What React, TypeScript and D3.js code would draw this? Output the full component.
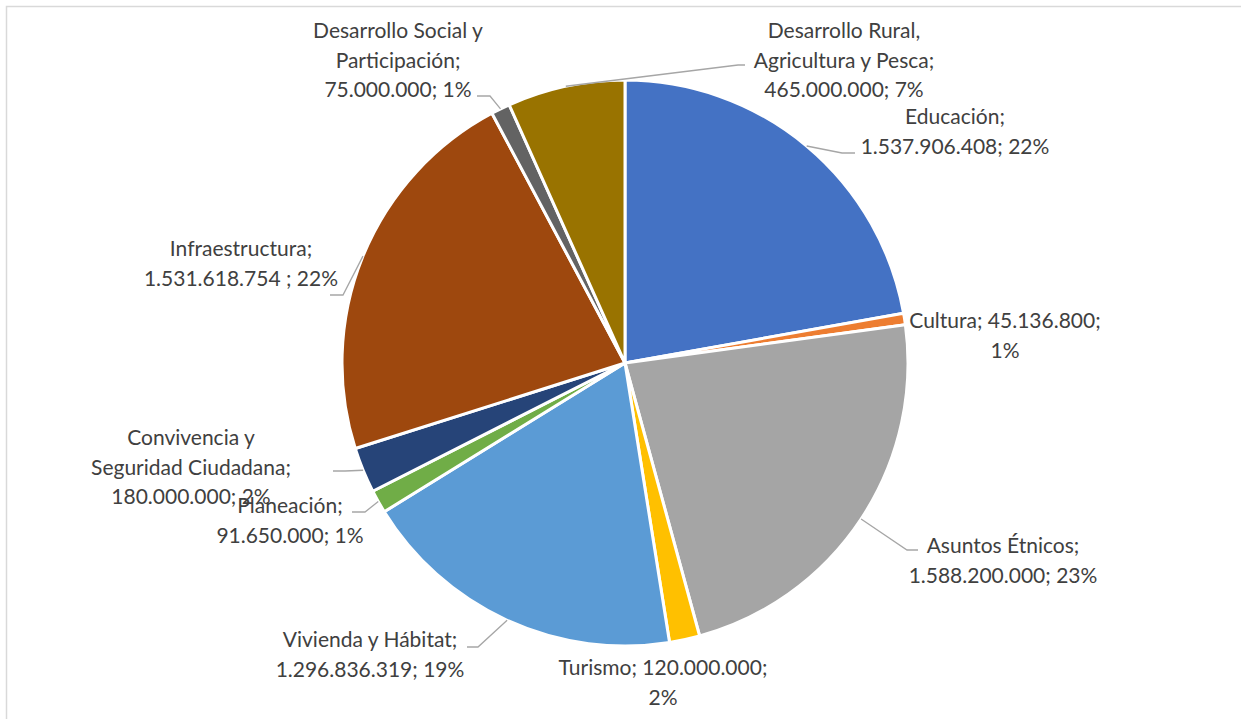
import React from "react";
import * as d3 from "d3";

const categories = [
  "Educación",
  "Cultura",
  "Asuntos Étnicos",
  "Turismo",
  "Vivienda y Hábitat",
  "Planeación",
  "Convivencia y Seguridad Ciudadana",
  "Infraestructura",
  "Desarrollo Social y Participación",
  "Desarrollo Rural, Agricultura y Pesca",
];
const values = [
  1537906408, 45136800, 1588200000, 120000000, 1296836319, 91650000, 180000000,
  1531618754, 75000000, 465000000,
];
const percentLabels = [22, 1, 23, 2, 19, 1, 2, 22, 1, 7];
const colors = [
  "#4472C4", "#ED7D31", "#A5A5A5", "#FFC000", "#5B9BD5",
  "#70AD47", "#264478", "#9E480E", "#636363", "#997300",
];
// label text templates: {v} value, {p} percent
const labelTemplates = [
  ["Educación;", "{v}; {p}%"],
  ["Cultura; {v};", "{p}%"],
  ["Asuntos Étnicos;", "{v}; {p}%"],
  ["Turismo; {v};", "{p}%"],
  ["Vivienda y Hábitat;", "{v}; {p}%"],
  ["Planeación;", "{v}; {p}%"],
  ["Convivencia y", "Seguridad Ciudadana;", "{v}; {p}%"],
  ["Infraestructura;", "{v} ; {p}%"],
  ["Desarrollo Social y", "Participación;", "{v}; {p}%"],
  ["Desarrollo Rural,", "Agricultura y Pesca;", "{v}; {p}%"],
];
// layout of labels: center x, first baseline y, leader elbow and end (null = no leader)
const labelLayout: { x: number; y: number; elbow: [number, number] | null; end: [number, number] | null }[] = [
  { x: 955, y: 124, elbow: [842, 153], end: [855, 153] },
  { x: 1005, y: 328, elbow: null, end: null },
  { x: 1003, y: 553, elbow: [907, 550], end: [918, 550] },
  { x: 663, y: 675, elbow: null, end: null },
  { x: 370, y: 647, elbow: [478, 647], end: [467, 647] },
  { x: 290, y: 513, elbow: [365, 512], end: [352, 512] },
  { x: 191, y: 445, elbow: [345, 471], end: [333, 471] },
  { x: 241, y: 256, elbow: [343, 295], end: [330, 295] },
  { x: 398, y: 38, elbow: [490, 96], end: [477, 96] },
  { x: 844, y: 38, elbow: [738, 65], end: [745, 65] },
];

const W = 1241;
const H = 719;
const CX = 625;
const CY = 363;
const R = 283;
const LINE_H = 29.5;

const fmtNum = (v: number) => d3.format(",")(v).replace(/,/g, ".");

export default function App() {
  const data = categories.map((c, i) => ({ c, v: values[i], i }));
  const pie = d3.pie<any>().value((d) => d.v).sort(null);
  const arcs = pie(data);
  const arcGen = d3.arc<any>().innerRadius(0).outerRadius(R);

  return (
    <svg
      width={W}
      height={H}
      style={{ position: "absolute", left: 0, top: 0, background: "#fff" }}
      fontFamily="Lato, 'Open Sans', sans-serif"
    >
      <rect x={0} y={0} width={W} height={H} fill="#fff" />
      <rect x={6.5} y={6.5} width={W + 20} height={H + 20} fill="none" stroke="#D9D9D9" strokeWidth={1.5} />
      <g transform={`translate(${CX},${CY})`}>
        {arcs.map((a, i) => (
          <path key={i} d={arcGen(a) as string} fill={colors[i]} stroke="#fff" strokeWidth={3} strokeLinejoin="round" />
        ))}
      </g>
      {arcs.map((a, i) => {
        const L = labelLayout[i];
        if (!L.elbow || !L.end) return null;
        const mid = (a.startAngle + a.endAngle) / 2;
        const sx = CX + R * Math.sin(mid);
        const sy = CY - R * Math.cos(mid);
        const pts: [number, number][] = [[sx, sy], L.elbow, L.end];
        return (
          <path key={"l" + i} d={d3.line()(pts) as string} fill="none" stroke="#A6A6A6" strokeWidth={1.3} />
        );
      })}
      {labelTemplates.map((lines, i) => {
        const L = labelLayout[i];
        return (
          <text key={"t" + i} x={L.x} y={L.y} textAnchor="middle" fontSize={21} fill="#404040">
            {lines.map((ln, j) => (
              <tspan key={j} x={L.x} y={L.y + j * LINE_H}>
                {ln.replace("{v}", fmtNum(values[i])).replace("{p}", String(percentLabels[i]))}
              </tspan>
            ))}
          </text>
        );
      })}
    </svg>
  );
}
